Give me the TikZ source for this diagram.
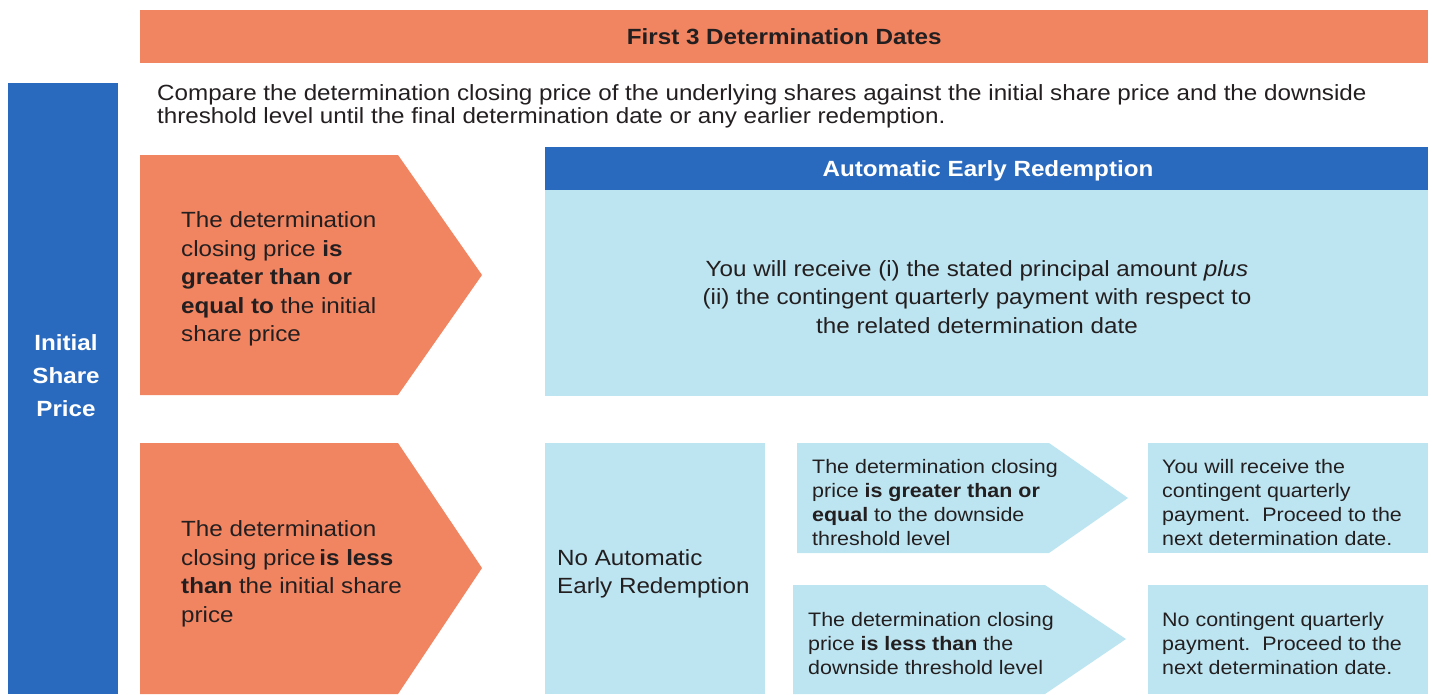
\documentclass[tikz,border=0pt]{standalone}
\usepackage{fontspec}
\setmainfont[FakeStretch=1.1]{Liberation Sans}
\usepackage{xcolor}
\usepackage{tikz}
\usetikzlibrary{positioning,calc}
\definecolor{flagorange}{RGB}{241,132,97}
\definecolor{flagblue}{RGB}{42,106,190}
\definecolor{palecyan}{RGB}{189,229,241}
\definecolor{inktext}{RGB}{35,31,32}

\begin{document}
\begin{tikzpicture}[x=1pt, y=-1pt,
    bar/.style={fill=#1, inner sep=0pt, anchor=north west},
    txt/.style={text=inktext, inner sep=0pt, align=left, anchor=west, font=\fontsize{22}{28.5}\selectfont},
    small/.style={txt, font=\fontsize{19.5}{24}\selectfont},
    head/.style={text=white, font=\bfseries\fontsize{22}{33}\selectfont, align=center},
]
    \useasboundingbox (0,0) rectangle (1432,694);

    % title bar and side bar
    \node[bar=flagorange, minimum width=1288pt, minimum height=53pt, text=inktext, font=\bfseries\fontsize{22}{26}\selectfont] (title) at (140,10) {First 3 Determination Dates};
    \node[bar=flagblue, minimum width=110pt, minimum height=611pt] (isp) at (8,83) {};
    \node[head] (isptext) at (66,376) {Initial\\Share\\Price};
    \node[txt, font=\fontsize{22}{23}\selectfont] (intro) at (157,106) {Compare the determination closing price of the underlying shares against the initial share price and the downside\\threshold level until the final determination date or any earlier redemption.};

    % left arrows
    \fill[flagorange] (140,155) -- (398,155) -- (482,275) -- (398,395) -- (140,395) -- cycle;
    \fill[flagorange] (140,443) -- (398,443) -- (482,568) -- (398,694) -- (140,694) -- cycle;
    \node[txt] (geq) at (181,279) {The determination\\closing price \textbf{is}\\\textbf{greater than or}\\\textbf{equal to} the initial\\share price};
    \node[txt] (less) at (181,574) {The determination\\closing price\,\textbf{is less}\\\textbf{than} the initial share\\price};

    % automatic early redemption
    \node[bar=flagblue, minimum width=883pt, minimum height=43pt] (aer) at (545,147) {};
    \node[head] (aertitle) at (988,171) {Automatic Early Redemption};
    \node[bar=palecyan, minimum width=883pt, minimum height=206pt] (aerbox) at (545,190) {};
    \node[txt, align=center, anchor=center] (aertext) at (977,297) {You will receive (i) the stated principal amount \emph{plus}\\(ii) the contingent quarterly payment with respect to\\the related determination date};

    % no automatic early redemption
    \node[bar=palecyan, minimum width=220pt, minimum height=251pt] (noaer) at (545,443) {};
    \node[txt] (noaertext) at (557,574) {No Automatic\\Early Redemption};

    \fill[palecyan] (797,443) -- (1049,443) -- (1128,498) -- (1049,553) -- (797,553) -- cycle;
    \fill[palecyan] (793,585) -- (1045,585) -- (1126,639) -- (1045,694) -- (793,694) -- cycle;
    \node[small] (above) at (812,503) {The determination closing\\price \textbf{is greater than or}\\\textbf{equal} to the downside\\threshold level};
    \node[small] (below) at (808,644) {The determination closing\\price \textbf{is less than} the\\downside threshold level};

    \node[bar=palecyan, minimum width=280pt, minimum height=110pt] (pay) at (1148,443) {};
    \node[bar=palecyan, minimum width=280pt, minimum height=109pt] (nopay) at (1148,585) {};
    \node[small] (paytext) at (1162,503) {You will receive the\\contingent quarterly\\payment.\ \ Proceed to the\\next determination date.};
    \node[small] (nopaytext) at (1162,644) {No contingent quarterly\\payment.\ \ Proceed to the\\next determination date.};
\end{tikzpicture}
\end{document}
